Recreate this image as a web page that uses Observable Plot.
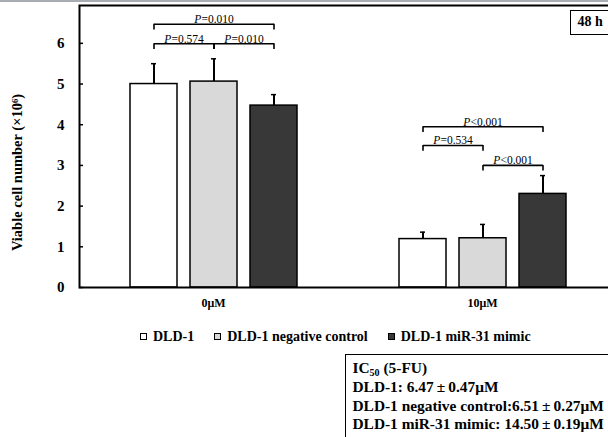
<!DOCTYPE html>
<html><head><meta charset="utf-8">
<script src="https://cdn.jsdelivr.net/npm/d3@7"></script>
<script src="https://cdn.jsdelivr.net/npm/@observablehq/plot@0.6"></script>
<style>
html,body{margin:0;background:#fff;overflow:hidden;}
body{font-family:"Liberation Serif",serif;font-weight:bold;color:#000;}
#wrap{position:relative;width:608px;height:437px;overflow:hidden;}
#chart{position:absolute;left:0;top:0;width:616px;}
#chart svg{max-width:none !important;}
#topbar{position:absolute;left:0;top:0;width:608px;height:2px;background:#a7adb3;}
#hbox{position:absolute;left:570px;top:10px;width:60px;height:25px;box-sizing:border-box;border:1.5px solid #000;background:#fff;font-size:14px;line-height:22px;padding-left:6.5px;}
#legend{position:absolute;left:140px;top:328.5px;display:flex;font-size:14px;line-height:16px;white-space:nowrap;}
#legend .item{display:flex;align-items:center;margin-right:20px;}
#legend .sw{width:7px;height:7px;box-sizing:border-box;border:1px solid #000;margin-right:6px;}
#ic{position:absolute;left:345px;top:354px;width:320px;height:120px;box-sizing:border-box;border:1.5px solid #000;padding:4.2px 0 0 6.5px;font-size:15.4px;line-height:18.7px;white-space:nowrap;}
#ic sub{font-size:10px;vertical-align:-3px;line-height:0;}
</style></head>
<body><div id="wrap"><div id="chart"></div><div id="topbar"></div><div id="hbox">48 h</div><div id="legend"></div><div id="ic"></div></div>
<script>
// ---- data ----
const groups = ["0μM", "10μM"];
const series = ["DLD-1", "DLD-1 negative control", "DLD-1 miR-31 mimic"];
const colors = ["#ffffff", "#d9d9d9", "#383838"];
const mean0 = [5.00, 5.06, 4.47];
const sd0 = [0.50, 0.56, 0.27];
const mean10 = [1.19, 1.21, 2.30];
const sd10 = [0.17, 0.34, 0.45];
const yTicks = [0, 1, 2, 3, 4, 5, 6];
const yMax = 6.93;
const yLabel = "Viable cell number (×10⁶)";
// significance brackets
const brGroup = ["0μM", "0μM", "0μM", "10μM", "10μM", "10μM"];
const brFrom = [0, 0, 1, 0, 0, 1];
const brTo = [2, 1, 2, 2, 1, 2];
const brLevel = [6.47, 5.99, 5.99, 3.95, 3.49, 3.00];
const brLabel = ["P=0.010", "P=0.574", "P=0.010", "P<0.001", "P=0.534", "P<0.001"];
const icTitle = "IC";
const icLines = ["DLD-1: 6.47±0.47μM", "DLD-1 negative control:6.51±0.27μM", "DLD-1 miR-31 mimic: 14.50±0.19μM"];
const panelLabel = "48 h";

// ---- build tables ----
const bars = [];
groups.forEach((g, gi) => series.forEach((s, si) => {
  bars.push({group: g, series: s, mean: gi === 0 ? mean0[si] : mean10[si], sd: gi === 0 ? sd0[si] : sd10[si]});
}));
const brackets = brGroup.map((g, i) => ({
  group: g, from: series[brFrom[i]], to: series[brTo[i]],
  mid: series[brFrom[i] + 1], span: brTo[i] - brFrom[i], level: brLevel[i], label: brLabel[i]
}));
const legs = brackets.flatMap(d => [{group: d.group, x: d.from, level: d.level}, {group: d.group, x: d.to, level: d.level}]);
const drop = 0.14;
const wide = brackets.filter(d => d.span === 2);
const narrow = brackets.filter(d => d.span === 1);
const pFont = {fontSize: 11.5, fontWeight: "normal", lineAnchor: "bottom", dy: -1};
const split = -12.6;

const chart = Plot.plot({
  width: 616, height: 318,
  marginLeft: 79, marginRight: 0, marginTop: 5, marginBottom: 31,
  style: {fontFamily: "Liberation Serif", fontWeight: "bold", background: "transparent", color: "#000", maxWidth: "none"},
  facet: {marginTop: 0, marginBottom: 0, marginLeft: 0, marginRight: 0},
  fx: {domain: groups, paddingInner: 1 / 269, paddingOuter: 0, axis: null, label: null},
  x: {domain: series, paddingInner: 0.22, paddingOuter: 0.8433, axis: null},
  y: {domain: [0, yMax], axis: null},
  color: {domain: series, range: colors},
  marks: [
    Plot.barY(bars, {fx: "group", x: "series", y: "mean", fill: "series", stroke: "#000", strokeWidth: 1.5}),
    Plot.ruleX(bars, {fx: "group", x: "series", y1: "mean", y2: d => d.mean + d.sd, strokeWidth: 2}),
    Plot.tickY(bars, {fx: "group", x: "series", y: d => d.mean + d.sd, insetLeft: 21, insetRight: 21, strokeWidth: 1.5}),
    Plot.link(brackets, {fx: "group", x1: "from", x2: "to", y1: "level", y2: "level", strokeWidth: 1.6}),
    Plot.ruleX(legs, {fx: "group", x: "x", y1: "level", y2: d => d.level - drop, strokeWidth: 1.6}),
    Plot.text(wide, {fx: "group", x: "mid", y: "level", text: () => "P", fontStyle: "italic", textAnchor: "end", ...pFont, dx: split}),
    Plot.text(wide, {fx: "group", x: "mid", y: "level", text: d => d.label.slice(1), textAnchor: "start", ...pFont, dx: split}),
    Plot.text(narrow, {fx: "group", x: "from", y: "level", text: () => "P", fontStyle: "italic", textAnchor: "end", ...pFont, dx: 30 + split}),
    Plot.text(narrow, {fx: "group", x: "from", y: "level", text: d => d.label.slice(1), textAnchor: "start", ...pFont, dx: 30 + split}),
    Plot.axisFx({anchor: "bottom", tickSize: 0, tickPadding: 11, fontSize: 12, label: null}),
    Plot.axisY({ticks: yTicks, tickFormat: d => String(d), tickSize: -4, tickPadding: 19, fontSize: 15, strokeWidth: 1.5, label: null}),
    Plot.frame({facet: "super", stroke: "#000", strokeWidth: 2}),
    Plot.text([yLabel], {facet: "super", frameAnchor: "left", textAnchor: "middle", text: d => d, rotate: -90, dx: -62, dy: 26, fontSize: 14.5})
  ]
});
document.getElementById("chart").appendChild(chart);

// legend
const lg = document.getElementById("legend");
series.forEach((s, i) => {
  const it = document.createElement("div"); it.className = "item";
  const sw = document.createElement("span"); sw.className = "sw"; sw.style.background = colors[i];
  const tx = document.createElement("span"); tx.textContent = s;
  it.appendChild(sw); it.appendChild(tx); lg.appendChild(it);
});
// IC50 box
const ic = document.getElementById("ic");
const t = document.createElement("div");
t.appendChild(document.createTextNode(icTitle));
const sub = document.createElement("sub"); sub.textContent = "50"; t.appendChild(sub);
t.appendChild(document.createTextNode(" (5-FU)"));
ic.appendChild(t);
icLines.forEach(l => { const d = document.createElement("div"); d.textContent = l.replace("±", "\u2009±\u2009"); ic.appendChild(d); });
document.getElementById("hbox").textContent = panelLabel;
</script>
</body></html>
